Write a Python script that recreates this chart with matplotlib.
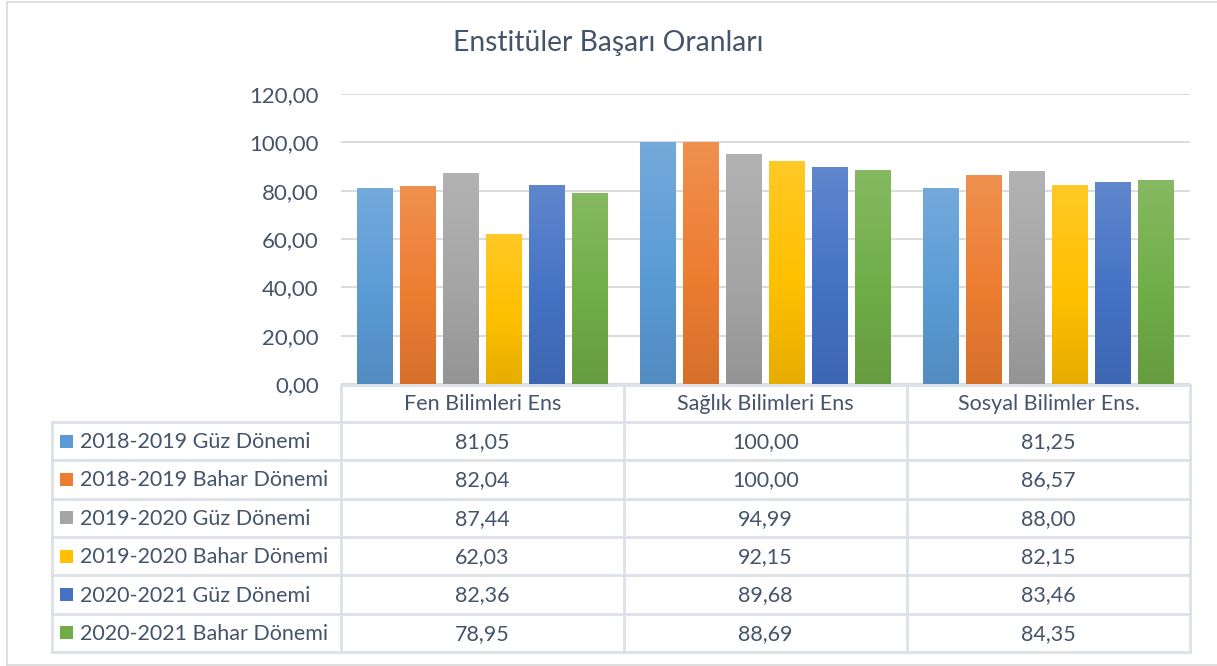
import matplotlib
matplotlib.use("Agg")
import matplotlib.pyplot as plt
import numpy as np
from matplotlib.colors import to_rgb, LinearSegmentedColormap
from matplotlib.transforms import blended_transform_factory

plt.rcParams['font.family'] = ['Lato', 'DejaVu Sans']

categories = ["Fen Bilimleri Ens", "Sağlık Bilimleri Ens", "Sosyal Bilimler Ens."]
series_names = ["2018-2019 Güz Dönemi", "2018-2019 Bahar Dönemi", "2019-2020 Güz Dönemi",
                "2019-2020 Bahar Dönemi", "2020-2021 Güz Dönemi", "2020-2021 Bahar Dönemi"]
values = [
    [81.05, 100.00, 81.25],
    [82.04, 100.00, 86.57],
    [87.44, 94.99, 88.00],
    [62.03, 92.15, 82.15],
    [82.36, 89.68, 83.46],
    [78.95, 88.69, 84.35],
]
colors = ["#5B9BD5", "#ED7D31", "#A5A5A5", "#FFC000", "#4472C4", "#70AD47"]
yticks = [0, 20, 40, 60, 80, 100, 120]
title = "Enstitüler Başarı Oranları"

def fmt(v):
    return f"{v:.2f}".replace(".", ",")

TXT = "#44546A"
FS = 15.5
W, H = 1217, 666
fig = plt.figure(figsize=(W / 100, H / 100), dpi=100)
bg = fig.add_axes([0, 0, 1, 1], zorder=0)
bg.set_xlim(0, W); bg.set_ylim(H, 0); bg.axis('off')

# outer border
bg.plot([7, 7, W + 5], [665, 1.5, 1.5], color="#D9D9D9", lw=1.2)
bg.plot([7, W + 5], [665, 665], color="#D9D9D9", lw=1.2)

ax_l, ax_r, ax_t, ax_b = 341, 1190, 94, 384
ax = fig.add_axes([ax_l / W, (H - ax_b) / H, (ax_r - ax_l) / W, (ax_b - ax_t) / H], zorder=1)
ax.patch.set_alpha(0)
for s in ax.spines.values():
    s.set_visible(False)
ax.set_xlim(-0.5, len(categories) - 0.5)
ax.set_ylim(0, 120)
ax.set_yticks(yticks)
ax.set_yticklabels([fmt(v) for v in yticks], fontsize=16, color=TXT)
ax.tick_params(axis='y', length=0, pad=16)
ax.set_xticks([])
ax.yaxis.grid(True, color="#D9D9D9", lw=1.3)
ax.set_axisbelow(True)

def blend(c, t, a):
    c = np.array(to_rgb(c)); t = np.array(t)
    return tuple(c + (t - c) * a)

x = np.arange(len(categories))
step, bw = 0.152, 0.127
for i, (name, vals, col) in enumerate(zip(series_names, values, colors)):
    bars = ax.bar(x + (i - 2.5) * step, vals, width=bw, color=col, lw=0, zorder=2)
    cmap = LinearSegmentedColormap.from_list(
        "g%d" % i, [(0, blend(col, (0, 0, 0), 0.10)), (0.45, to_rgb(col)), (1, blend(col, (1, 1, 1), 0.15))])
    grad = np.linspace(0, 1, 256).reshape(-1, 1)
    for b in bars:
        im = ax.imshow(grad, extent=[b.get_x(), b.get_x() + b.get_width(), 0, b.get_height()],
                       origin='lower', aspect='auto', cmap=cmap, zorder=3, interpolation='bilinear')
        im.set_clip_path(b)
ax.set_xlim(-0.5, len(categories) - 0.5)
ax.set_ylim(0, 120)

fig.text(0.5, (H - 43) / H, title, ha='center', va='center', fontsize=20.3, color=TXT)

# data table
LC = "#DCE0E8"
tlw = 2.0
tbl_left = 52
hdr_top, hdr_bot, tbl_bot = 385, 422, 652
nrows = len(series_names)
rh = (tbl_bot - hdr_bot) / nrows
bg.plot([ax_l, ax_r], [hdr_top, hdr_top], color=LC, lw=tlw)
for r in range(nrows + 1):
    yy = hdr_bot + r * rh
    bg.plot([tbl_left, ax_r], [yy, yy], color=LC, lw=tlw)
bg.plot([tbl_left, tbl_left], [hdr_bot, tbl_bot], color=LC, lw=tlw)
for k in range(len(categories) + 1):
    xx = ax_l + k * (ax_r - ax_l) / len(categories)
    bg.plot([xx, xx], [hdr_top, tbl_bot], color=LC, lw=tlw)

tr = blended_transform_factory(ax.transData, bg.transData)
for j, c in enumerate(categories):
    bg.text(x[j], (hdr_top + hdr_bot) / 2 + 1, c, transform=tr, ha='center', va='center',
            fontsize=FS, color=TXT)
for r, (name, vals, col) in enumerate(zip(series_names, values, colors)):
    yc = hdr_bot + (r + 0.5) * rh
    bg.add_patch(plt.Rectangle((60, yc - 6.5), 13, 13, facecolor=col, lw=0))
    bg.text(80, yc + 1, name, ha='left', va='center', fontsize=FS, color=TXT)
    for j, v in enumerate(vals):
        bg.text(x[j], yc + 1, fmt(v), transform=tr, ha='center', va='center', fontsize=FS, color=TXT)

fig.savefig("out.png", dpi=100)
